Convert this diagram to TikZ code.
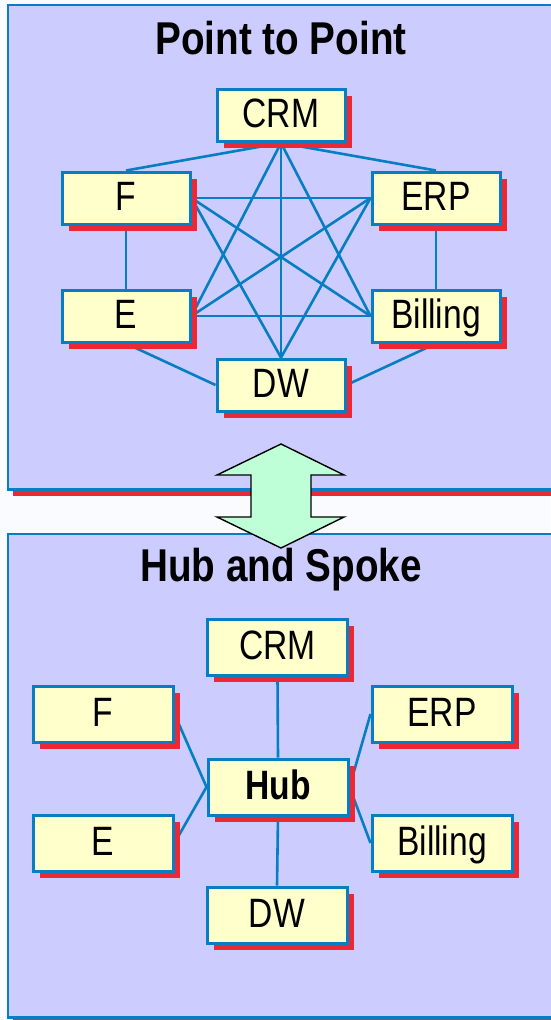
\documentclass[tikz,border=0pt]{standalone}
\usepackage{fontspec}
\setmainfont{Liberation Sans}
\newfontfamily\boxfont{Liberation Sans}[FakeStretch=0.82]
\newfontfamily\titlefont{Liberation Sans}[FakeStretch=0.84]
\usetikzlibrary{shadows}
\definecolor{bgc}{RGB}{250,251,255}
\definecolor{panelc}{RGB}{204,204,255}
\definecolor{linec}{RGB}{8,126,194}
\definecolor{shadc}{RGB}{236,40,52}
\definecolor{boxc}{RGB}{255,255,204}
\definecolor{arrowc}{RGB}{190,255,216}
\pgfdeclarelayer{panel}
\pgfdeclarelayer{edges}
\pgfsetlayers{panel,edges,main}
\tikzset{
  sysbox/.style={draw=linec, line width=3pt, fill=boxc, inner sep=0pt,
    text height=28.6pt, text depth=4pt,
    font=\boxfont\fontsize{41}{44}\selectfont,
    general shadow={fill=shadc, shadow xshift=6.5pt, shadow yshift=-6.5pt}},
  topbox/.style={sysbox, minimum width=128pt, minimum height=52pt},
  botbox/.style={sysbox, minimum width=140pt, minimum height=56pt},
  link/.style={draw=linec, line width=2.6pt},
  paneltitle/.style={anchor=base, inner sep=0pt, font=\titlefont\bfseries\fontsize{46}{50}\selectfont},
  panelbox/.style={draw=linec, line width=2.8pt, fill=panelc},
  panelshadow/.style={fill=shadc},
  bigarrow/.style={draw=black, line width=1.4pt, fill=arrowc, line join=miter}
}
\begin{document}
\begin{tikzpicture}[x=1pt, y=-1pt]
\useasboundingbox (0,0) rectangle (550,1020);
\clip (0,0) rectangle (550,1020);
\begin{pgfonlayer}{panel}
  \fill[bgc] (0,0) rectangle (550,1020);
  \fill[panelshadow] (13,11) rectangle (610,496);
  \draw[panelbox] (8,5) rectangle (600,489.5);
  \fill[panelshadow] (13,540) rectangle (610,1030);
  \draw[panelbox] (8,534) rectangle (600,1017.5);
\end{pgfonlayer}

% titles
\node[paneltitle] (t1) at (281,54) {Point to Point};
\node[paneltitle] (t2) at (281,581) {Hub and Spoke};

% top panel: point to point
\node[topbox] (crm) at (281,115.5) {CRM};
\node[topbox] (f) at (126,198) {F};
\node[topbox] (erp) at (436,198) {ERP};
\node[topbox] (e) at (126,316) {E};
\node[topbox] (bil) at (436,316) {Billing};
\node[topbox] (dw) at (281,385) {DW};

\begin{pgfonlayer}{edges}
  \draw[link] (crm.south) -- (f.north);
  \draw[link] (crm.south) -- (erp.north);
  \draw[link] (crm.south) -- (e.east);
  \draw[link] (crm.south) -- (bil.west);
  \draw[link] (crm.south) -- (dw.north);
  \draw[link] (f.east) -- (erp.west);
  \draw[link] (f.south) -- (e.north);
  \draw[link] (f.east) -- (bil.west);
  \draw[link] (f.east) -- (dw.north);
  \draw[link] (erp.west) -- (e.east);
  \draw[link] (erp.south) -- (bil.north);
  \draw[link] (erp.west) -- (dw.north);
  \draw[link] (e.east) -- (bil.west);
  \draw[link] (e.south) -- (dw.west);
  \draw[link] (bil.south) -- (dw.east);
\end{pgfonlayer}

% double arrow
\draw[bigarrow] (281,444) -- (344,475) -- (311,475) -- (311,517) -- (344,517)
  -- (281,548) -- (217,517) -- (251,517) -- (251,475) -- (217,475) -- cycle;

% bottom panel: hub and spoke
\node[botbox] (crm2) at (277.5,647.5) {CRM};
\node[botbox, font=\boxfont\bfseries\fontsize{41}{44}\selectfont] (hub) at (278,787) {Hub};
\node[botbox] (dw2) at (277,915) {DW};
\node[botbox] (f2) at (103,714) {F};
\node[botbox] (erp2) at (442,714) {ERP};
\node[botbox] (e2) at (103,843) {E};
\node[botbox] (bil2) at (442,843) {Billing};

\begin{pgfonlayer}{edges}
  \draw[link] (crm2.south) -- (hub.north);
  \draw[link] (hub.south) -- (dw2.north);
  \draw[link] (f2.east) -- (hub.west);
  \draw[link] (e2.east) -- (hub.west);
  \draw[link] (erp2.west) -- (hub.east);
  \draw[link] (bil2.west) -- (hub.east);
\end{pgfonlayer}
\end{tikzpicture}
\end{document}
